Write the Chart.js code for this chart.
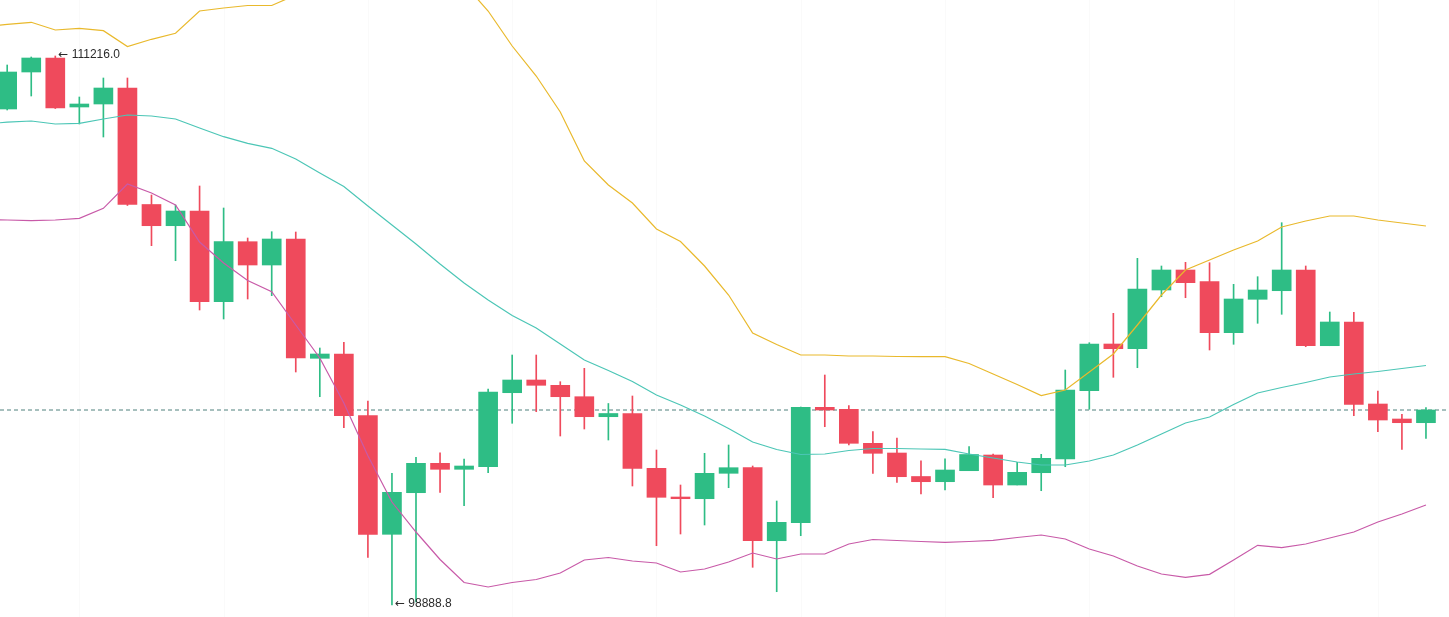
<!DOCTYPE html>
<html>
<head>
<meta charset="utf-8">
<script src="https://cdn.jsdelivr.net/npm/chart.js@4.4.1/dist/chart.umd.min.js"></script>
<style>
  html, body { margin: 0; padding: 0; background: #ffffff; overflow: hidden; }
  #wrap { width: 1449px; height: 617px; position: relative; }
</style>
</head>
<body>
<div id="wrap"><canvas id="c" width="1449" height="617"></canvas></div>
<script>
// ---- data ----
const candleIndex = Array.from({length: 60}, (_, i) => i);

const openP = [110025.9, 110856.7, 111171.1, 110070.8, 110138.2, 110497.4, 107881.6, 107405.5, 107735.6, 105699.0,
  107046.3, 106523.1, 107106.9, 104428.1, 104524.7, 103139.3, 100476.2, 101410.3, 102070.4, 101935.7,
  101994.1, 103655.7, 103940.9, 103821.9, 103565.9, 103116.8, 103188.7, 101958.2, 101313.8, 101275.6,
  101845.9, 101971.7, 100332.5, 100736.7, 103327.9, 103283.0, 102519.5, 102301.7, 101774.1, 101657.3,
  101904.3, 102256.8, 101583.2, 101859.4, 102167.0, 103700.6, 104749.2, 104643.7, 105961.7, 106410.8,
  106148.1, 105003.0, 105752.9, 105946.0, 106410.8, 104711.0, 105243.2, 103402.0, 103065.2, 102982.1];

const highP = [111013.9, 111193.5, 111216.0, 110295.4, 110722.0, 110722.0, 108094.9, 107870.3, 108297.0, 107803.0,
  107129.3, 107270.8, 107264.1, 104659.4, 104787.4, 103469.3, 101845.9, 102205.2, 102308.4, 102167.0,
  103738.8, 104502.2, 104502.2, 103902.7, 104203.6, 103413.2, 103581.6, 102369.1, 101583.2, 102295.0,
  102481.4, 102009.8, 101223.9, 103334.6, 104053.1, 103363.8, 102780.0, 102638.5, 102128.8, 102173.7,
  102443.2, 102279.3, 102092.9, 102272.5, 104165.4, 104778.5, 105438.6, 106673.5, 106500.6, 106583.7,
  106574.7, 106089.7, 106260.4, 107472.9, 106500.6, 105467.8, 105461.0, 103693.9, 103170.7, 103318.9];

const lowP = [110003.5, 110317.8, 110037.1, 109689.1, 109397.2, 107859.1, 106956.5, 106619.6, 105512.7, 105310.6,
  105759.7, 105833.8, 104120.5, 103565.9, 102869.8, 99959.8, 98888.8, 98956.1, 101419.3, 101118.4,
  101859.4, 102968.6, 103229.1, 102683.5, 102840.6, 102593.6, 101560.8, 100220.2, 100483.0, 100685.0,
  101522.6, 99735.2, 99187.4, 100444.8, 102892.3, 102481.4, 101845.9, 101639.3, 101381.1, 101470.9,
  101904.3, 101298.0, 101583.2, 101455.2, 101994.1, 103283.0, 104001.5, 104217.1, 105811.3, 105788.8,
  104614.5, 104742.5, 105214.0, 105416.1, 104688.6, 104711.0, 103139.3, 102780.0, 102384.8, 102631.8];

const closeP = [110856.7, 111171.1, 110048.4, 110138.2, 110497.4, 107881.6, 107405.5, 107735.6, 105699.0, 107046.3,
  106523.1, 107106.9, 104434.9, 104524.7, 103139.3, 100476.2, 101419.3, 102070.4, 101935.7, 102009.8,
  103671.4, 103940.9, 103821.9, 103565.9, 103116.8, 103188.7, 101958.2, 101307.0, 101275.6, 101845.9,
  101971.7, 100332.5, 100745.7, 103327.9, 103267.3, 102519.5, 102295.0, 101769.6, 101657.3, 101920.0,
  102268.1, 101583.2, 101868.4, 102182.7, 103716.3, 104749.2, 104643.7, 105984.2, 106410.8, 106125.7,
  105003.0, 105759.7, 105961.7, 106410.8, 104711.0, 105243.2, 103395.2, 103042.7, 102982.1, 103267.3];

// Bollinger bands, starting one candle before the first visible one (index -1)
const bandStart = -1;
const bollUpper = [111878.4, 111925.5, 111972.7, 111799.8, 111838.0, 111784.1, 111429.3, 111591.0, 111725.7, 112226.4,
  112293.8, 112349.9, 112349.9, 112585.7, 112742.8, 113147.0, 113461.4, 113641.0, 113461.4, 113169.5,
  112832.7, 112226.4, 111440.5, 110766.9, 109958.6, 108858.3, 108319.4, 107915.2, 107331.4, 107050.8,
  106500.6, 105849.5, 104996.2, 104738.0, 104502.2, 104502.2, 104479.8, 104479.8, 104468.5, 104464.1,
  104464.1, 104311.4, 104075.6, 103839.8, 103592.8, 103716.3, 104120.5, 104524.7, 105175.8, 105849.5,
  106410.8, 106635.4, 106859.9, 107062.0, 107376.3, 107511.1, 107623.3, 107623.3, 107533.5, 107466.2, 107398.8];

const bollMiddle = [109689.1, 109729.5, 109756.5, 109689.1, 109704.8, 109801.4, 109891.2, 109868.7, 109801.4, 109599.3,
  109403.9, 109255.7, 109143.5, 108903.2, 108588.9, 108285.7, 107847.9, 107421.2, 106994.6, 106545.5,
  106118.9, 105737.2, 105389.2, 105108.5, 104749.2, 104390.0, 104154.2, 103907.2, 103604.1, 103379.5,
  103132.5, 102851.9, 102548.7, 102380.3, 102268.1, 102279.3, 102357.9, 102402.8, 102402.8, 102391.6,
  102384.8, 102279.3, 102189.5, 102099.7, 102032.3, 102032.3, 102122.1, 102256.8, 102481.4, 102728.4,
  102975.4, 103110.1, 103390.8, 103649.0, 103772.5, 103884.7, 104008.2, 104075.6, 104131.7, 104199.1, 104266.5];

const bollLower = [107544.7, 107533.5, 107517.8, 107533.5, 107571.7, 107796.2, 108341.9, 108139.8, 107870.3, 107039.5,
  106568.0, 106175.1, 105923.6, 105175.8, 104434.9, 103424.5, 102241.1, 101201.5, 100527.9, 99910.4,
  99393.9, 99292.9, 99393.9, 99461.3, 99607.3, 99899.2, 99955.3, 99876.7, 99831.8, 99629.7,
  99697.1, 99854.3, 100056.3, 99921.6, 100033.9, 100033.9, 100258.4, 100359.5, 100337.0, 100314.6,
  100296.6, 100314.6, 100341.5, 100404.4, 100460.5, 100370.7, 100146.2, 99989.0, 99764.4, 99584.8,
  99510.7, 99578.1, 99899.2, 100229.2, 100175.4, 100258.4, 100393.1, 100527.9, 100752.4, 100932.0, 101134.1];

// candles where a faint vertical grid line is drawn (every 6 candles)
const gridCandles = [3, 9, 15, 21, 27, 33, 39, 45, 51, 57];

// ---- styling ----
const UP = '#2ebd85';
const DOWN = '#ef4a5c';
const C_UPPER = '#e9b92c';
const C_MIDDLE = '#4cc6b6';
const C_LOWER = '#c85aa8';

const lastClose = closeP[closeP.length - 1];
const candleColors = candleIndex.map(i => closeP[i] >= openP[i] ? UP : DOWN);

const wickData = candleIndex.map(i => ({x: i, y: [lowP[i], highP[i]]}));
const bodyData = candleIndex.map(i => ({x: i, y: [openP[i], closeP[i]]}));
const band = arr => arr.map((v, k) => ({x: bandStart + k, y: v}));

const X_MIN = -0.2994, X_MAX = 59.958;
const Y_MIN = 98619.4, Y_MAX = 112473.4;

const gridPlugin = {
  id: 'faintGrid',
  beforeDatasetsDraw(chart) {
    const {ctx, chartArea, scales} = chart;
    ctx.save();
    ctx.strokeStyle = 'rgba(0,0,0,0.018)';
    ctx.lineWidth = 1;
    gridCandles.forEach(i => {
      const x = Math.round(scales.x.getPixelForValue(i)) + 0.5;
      ctx.beginPath();
      ctx.moveTo(x, chartArea.top);
      ctx.lineTo(x, chartArea.bottom);
      ctx.stroke();
    });
    ctx.restore();
  }
};

const extremesPlugin = {
  id: 'extremes',
  afterDatasetsDraw(chart) {
    const {ctx, scales} = chart;
    let iMax = 0, iMin = 0;
    candleIndex.forEach(i => {
      if (highP[i] > highP[iMax]) iMax = i;
      if (lowP[i] < lowP[iMin]) iMin = i;
    });
    ctx.save();
    ctx.textAlign = 'left';
    ctx.textBaseline = 'middle';
    ctx.fillStyle = '#2b2b2b';
    const draw = (val, i, dy) => {
      const x = scales.x.getPixelForValue(i) + 3;
      const y = scales.y.getPixelForValue(val) + dy;
      ctx.font = '12px "DejaVu Sans", sans-serif';
      ctx.fillText('\u2190', x, y);
      const w = ctx.measureText('\u2190').width;
      ctx.font = '12px "Liberation Sans", Arial, sans-serif';
      ctx.fillText(' ' + val.toFixed(1), x + w, y);
    };
    draw(highP[iMax], iMax, -1.5);
    draw(lowP[iMin], iMin, -1);
    ctx.restore();
  }
};

new Chart(document.getElementById('c'), {
  type: 'bar',
  data: {
    datasets: [
      { type: 'line', data: band(bollUpper), borderColor: C_UPPER, borderWidth: 1.2, pointRadius: 0, tension: 0, order: 0 },
      { type: 'line', data: band(bollMiddle), borderColor: C_MIDDLE, borderWidth: 1.2, pointRadius: 0, tension: 0, order: 0 },
      { type: 'line', data: band(bollLower), borderColor: C_LOWER, borderWidth: 1.2, pointRadius: 0, tension: 0, order: 0 },
      { type: 'line', data: [{x: X_MIN, y: lastClose}, {x: X_MAX, y: lastClose}],
        borderColor: '#4f807c', borderWidth: 1, borderDash: [4, 3], pointRadius: 0, order: 3 },
      { type: 'bar', data: bodyData, backgroundColor: candleColors, borderWidth: 0,
        barThickness: 19, grouped: false, order: 1 },
      { type: 'bar', data: wickData, backgroundColor: candleColors, borderWidth: 0,
        barThickness: 1, grouped: false, order: 2 }
    ]
  },
  options: {
    responsive: false,
    animation: false,
    devicePixelRatio: 1,
    layout: { padding: 0 },
    plugins: { legend: { display: false }, tooltip: { enabled: false } },
    scales: {
      x: { type: 'linear', display: false, offset: false, min: X_MIN, max: X_MAX },
      y: { type: 'linear', display: false, min: Y_MIN, max: Y_MAX }
    }
  },
  plugins: [gridPlugin, extremesPlugin]
});
</script>
</body>
</html>
